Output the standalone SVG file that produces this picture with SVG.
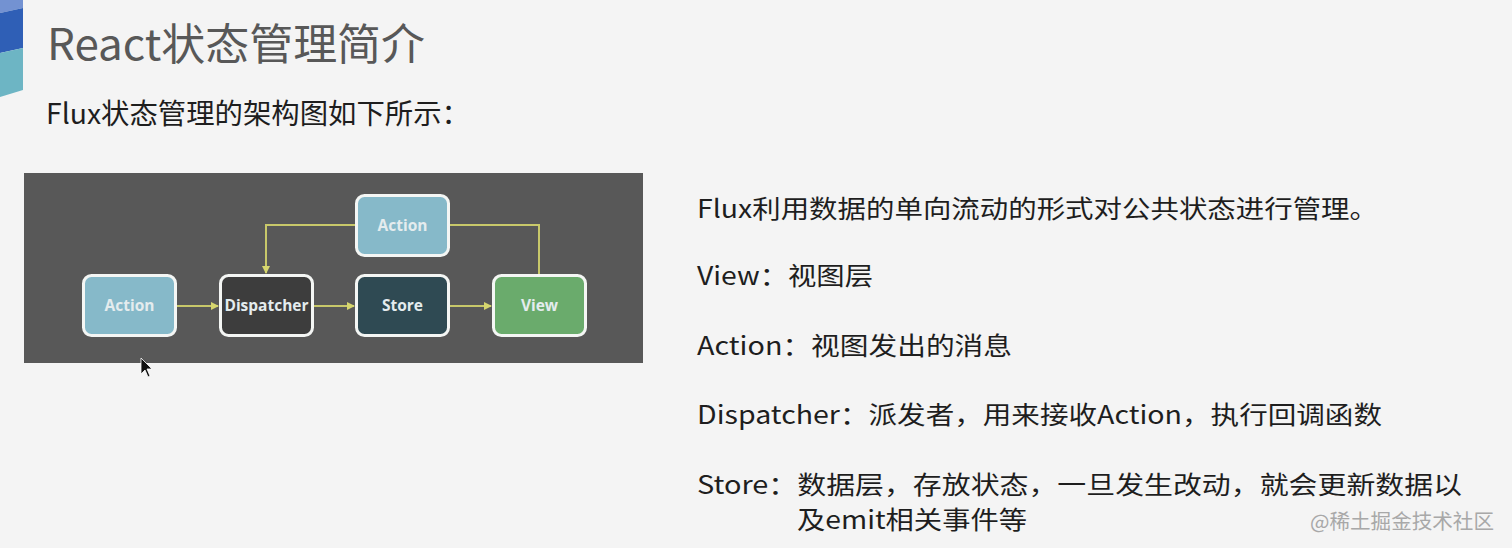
<svg xmlns="http://www.w3.org/2000/svg" width="1512" height="548" viewBox="0 0 1512 548">
<style>
.t{font-family:"Noto Sans CJK SC","Noto Sans",sans-serif;fill:#1e1e1e;font-size:25px}
.box{stroke:#f4f6f4;stroke-width:3}
.lbl{font-family:"Open Sans","Noto Sans",sans-serif;font-weight:700;font-size:15.5px;fill:#e4ecee;text-anchor:middle}
.con{fill:none;stroke:#c8c86a;stroke-width:2}
</style>
<defs>
<marker id="ah" markerWidth="8" markerHeight="8" refX="7" refY="4" orient="auto" markerUnits="userSpaceOnUse">
<path d="M0,0 L8,4 L0,8 z" fill="#d6d66e"/>
</marker>
</defs>
<rect width="1512" height="548" fill="#f4f4f4"/>
<g id="corner">
<polygon points="0,0 23,0 23,8 0,13" fill="#7392d2"/>
<polygon points="0,13 23,8 23,48 0,53" fill="#2f5fb6"/>
<polygon points="0,53 23,48 23,90 0,97" fill="#6db5c4"/>
</g>
<text id="title" x="47" y="60" font-family="'Noto Sans CJK SC','Noto Sans',sans-serif" font-size="43" fill="#585858" textLength="378" lengthAdjust="spacingAndGlyphs">React状态管理简介</text>
<text id="subtitle" x="46" y="124" font-family="'Noto Sans CJK SC','Noto Sans',sans-serif" font-size="28" fill="#1e1e1e" textLength="424" lengthAdjust="spacingAndGlyphs">Flux状态管理的架构图如下所示：</text>
<rect id="panel" x="24" y="173" width="619" height="190" fill="#585858"/>
<g id="connectors">
<line class="con" x1="177" y1="306" x2="218" y2="306" marker-end="url(#ah)"/>
<line class="con" x1="313" y1="306" x2="354" y2="306" marker-end="url(#ah)"/>
<line class="con" x1="450" y1="306" x2="491" y2="306" marker-end="url(#ah)"/>
<path class="con" d="M355,225 H266 V273" marker-end="url(#ah)"/>
<path class="con" d="M539,274 V225 H450"/>
</g>
<g id="node-action">
<rect class="box" x="83.5" y="275.5" width="92" height="60" rx="8" fill="#86b9c9"/>
<text class="lbl" x="129.5" y="311">Action</text>
</g>
<g id="node-dispatcher">
<rect class="box" x="220.5" y="275.5" width="92" height="60" rx="8" fill="#3d3d3d"/>
<text class="lbl" x="266.5" y="311">Dispatcher</text>
</g>
<g id="node-store">
<rect class="box" x="356.5" y="275.5" width="92" height="60" rx="8" fill="#2f4a53"/>
<text class="lbl" x="402.5" y="311">Store</text>
</g>
<g id="node-view">
<rect class="box" x="493.5" y="275.5" width="92" height="60" rx="8" fill="#6aab6c"/>
<text class="lbl" x="539.5" y="311">View</text>
</g>
<g id="node-action-top">
<rect class="box" x="356.5" y="195.5" width="92" height="60" rx="8" fill="#86b9c9"/>
<text class="lbl" x="402.5" y="231">Action</text>
</g>
<polygon id="cursor" points="141,358 141,374 145,370 148,377 150,376 147,369 152,369" fill="#111" stroke="#fff" stroke-width="0.8"/>
<g id="desc">
<text class="t" x="697" y="218" textLength="681" lengthAdjust="spacingAndGlyphs">Flux利用数据的单向流动的形式对公共状态进行管理。</text>
<text class="t" x="697" y="285" textLength="176" lengthAdjust="spacingAndGlyphs">View：视图层</text>
<text class="t" x="697" y="355" textLength="315" lengthAdjust="spacingAndGlyphs">Action：视图发出的消息</text>
<text class="t" x="697" y="424" textLength="685" lengthAdjust="spacingAndGlyphs">Dispatcher：派发者，用来接收Action，执行回调函数</text>
<text class="t" x="697" y="494" textLength="765" lengthAdjust="spacingAndGlyphs">Store：数据层，存放状态，一旦发生改动，就会更新数据以</text>
<text class="t" x="797" y="529" textLength="230" lengthAdjust="spacingAndGlyphs">及emit相关事件等</text>
</g>
<text id="watermark" x="1310" y="529" font-family="'Noto Sans CJK SC',sans-serif" font-size="20" fill="#a8a8a8" textLength="184" lengthAdjust="spacingAndGlyphs">@稀土掘金技术社区</text>
</svg>
